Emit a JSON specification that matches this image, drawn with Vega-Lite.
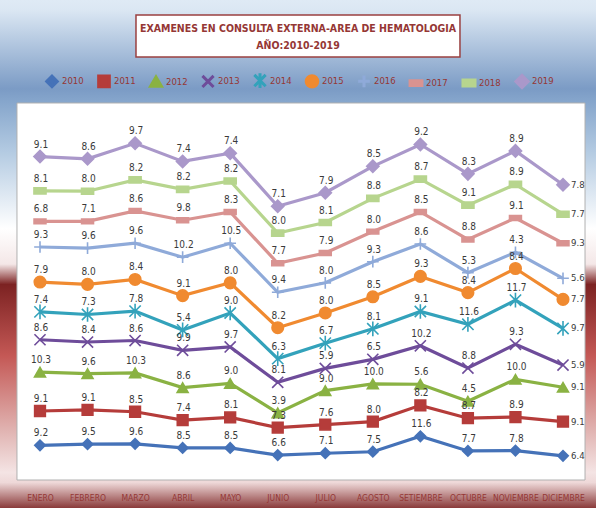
{
  "$schema": "https://vega.github.io/schema/vega-lite/v6.json",
  "width": 596,
  "height": 508,
  "autosize": {"type": "none"},
  "padding": 0,
  "title": {
    "text": ["EXAMENES EN CONSULTA EXTERNA-AREA DE HEMATOLOGIA", "AÑO:2010-2019"],
    "color": "#953735",
    "fontSize": 10.5,
    "fontWeight": "bold",
    "font": "DejaVu Sans Condensed, Open Sans, sans-serif",
    "lineHeight": 17,
    "anchor": "middle",
    "baseline": "bottom",
    "offset": 0,
    "dy": 61
  },
  "data": {"values": [
    {"year":"2010","n":1,"month":"ENERO","value":9.2},{"year":"2010","n":2,"month":"FEBRERO","value":9.5},{"year":"2010","n":3,"month":"MARZO","value":9.6},{"year":"2010","n":4,"month":"ABRIL","value":8.5},{"year":"2010","n":5,"month":"MAYO","value":8.5},{"year":"2010","n":6,"month":"JUNIO","value":6.6},{"year":"2010","n":7,"month":"JULIO","value":7.1},{"year":"2010","n":8,"month":"AGOSTO","value":7.5},{"year":"2010","n":9,"month":"SETIEMBRE","value":11.6},{"year":"2010","n":10,"month":"OCTUBRE","value":7.7},{"year":"2010","n":11,"month":"NOVIEMBRE","value":7.8},{"year":"2010","n":12,"month":"DICIEMBRE","value":6.4},
    {"year":"2011","n":1,"month":"ENERO","value":9.1},{"year":"2011","n":2,"month":"FEBRERO","value":9.1},{"year":"2011","n":3,"month":"MARZO","value":8.5},{"year":"2011","n":4,"month":"ABRIL","value":7.4},{"year":"2011","n":5,"month":"MAYO","value":8.1},{"year":"2011","n":6,"month":"JUNIO","value":7.3},{"year":"2011","n":7,"month":"JULIO","value":7.6},{"year":"2011","n":8,"month":"AGOSTO","value":8.0},{"year":"2011","n":9,"month":"SETIEMBRE","value":8.2},{"year":"2011","n":10,"month":"OCTUBRE","value":8.7},{"year":"2011","n":11,"month":"NOVIEMBRE","value":8.9},{"year":"2011","n":12,"month":"DICIEMBRE","value":9.1},
    {"year":"2012","n":1,"month":"ENERO","value":10.3},{"year":"2012","n":2,"month":"FEBRERO","value":9.6},{"year":"2012","n":3,"month":"MARZO","value":10.3},{"year":"2012","n":4,"month":"ABRIL","value":8.6},{"year":"2012","n":5,"month":"MAYO","value":9.0},{"year":"2012","n":6,"month":"JUNIO","value":3.9},{"year":"2012","n":7,"month":"JULIO","value":9.0},{"year":"2012","n":8,"month":"AGOSTO","value":10.0},{"year":"2012","n":9,"month":"SETIEMBRE","value":5.6},{"year":"2012","n":10,"month":"OCTUBRE","value":4.5},{"year":"2012","n":11,"month":"NOVIEMBRE","value":10.0},{"year":"2012","n":12,"month":"DICIEMBRE","value":9.1},
    {"year":"2013","n":1,"month":"ENERO","value":8.6},{"year":"2013","n":2,"month":"FEBRERO","value":8.4},{"year":"2013","n":3,"month":"MARZO","value":8.6},{"year":"2013","n":4,"month":"ABRIL","value":9.9},{"year":"2013","n":5,"month":"MAYO","value":9.7},{"year":"2013","n":6,"month":"JUNIO","value":8.1},{"year":"2013","n":7,"month":"JULIO","value":5.9},{"year":"2013","n":8,"month":"AGOSTO","value":6.5},{"year":"2013","n":9,"month":"SETIEMBRE","value":10.2},{"year":"2013","n":10,"month":"OCTUBRE","value":8.8},{"year":"2013","n":11,"month":"NOVIEMBRE","value":9.3},{"year":"2013","n":12,"month":"DICIEMBRE","value":5.9},
    {"year":"2014","n":1,"month":"ENERO","value":7.4},{"year":"2014","n":2,"month":"FEBRERO","value":7.3},{"year":"2014","n":3,"month":"MARZO","value":7.8},{"year":"2014","n":4,"month":"ABRIL","value":5.4},{"year":"2014","n":5,"month":"MAYO","value":9.0},{"year":"2014","n":6,"month":"JUNIO","value":6.3},{"year":"2014","n":7,"month":"JULIO","value":6.7},{"year":"2014","n":8,"month":"AGOSTO","value":8.1},{"year":"2014","n":9,"month":"SETIEMBRE","value":9.1},{"year":"2014","n":10,"month":"OCTUBRE","value":11.6},{"year":"2014","n":11,"month":"NOVIEMBRE","value":11.7},{"year":"2014","n":12,"month":"DICIEMBRE","value":9.7},
    {"year":"2015","n":1,"month":"ENERO","value":7.9},{"year":"2015","n":2,"month":"FEBRERO","value":8.0},{"year":"2015","n":3,"month":"MARZO","value":8.4},{"year":"2015","n":4,"month":"ABRIL","value":9.1},{"year":"2015","n":5,"month":"MAYO","value":8.0},{"year":"2015","n":6,"month":"JUNIO","value":8.2},{"year":"2015","n":7,"month":"JULIO","value":8.0},{"year":"2015","n":8,"month":"AGOSTO","value":8.5},{"year":"2015","n":9,"month":"SETIEMBRE","value":9.3},{"year":"2015","n":10,"month":"OCTUBRE","value":8.4},{"year":"2015","n":11,"month":"NOVIEMBRE","value":8.4},{"year":"2015","n":12,"month":"DICIEMBRE","value":7.7},
    {"year":"2016","n":1,"month":"ENERO","value":9.3},{"year":"2016","n":2,"month":"FEBRERO","value":9.6},{"year":"2016","n":3,"month":"MARZO","value":9.6},{"year":"2016","n":4,"month":"ABRIL","value":10.2},{"year":"2016","n":5,"month":"MAYO","value":10.5},{"year":"2016","n":6,"month":"JUNIO","value":9.4},{"year":"2016","n":7,"month":"JULIO","value":8.0},{"year":"2016","n":8,"month":"AGOSTO","value":9.3},{"year":"2016","n":9,"month":"SETIEMBRE","value":8.6},{"year":"2016","n":10,"month":"OCTUBRE","value":5.3},{"year":"2016","n":11,"month":"NOVIEMBRE","value":4.3},{"year":"2016","n":12,"month":"DICIEMBRE","value":5.6},
    {"year":"2017","n":1,"month":"ENERO","value":6.8},{"year":"2017","n":2,"month":"FEBRERO","value":7.1},{"year":"2017","n":3,"month":"MARZO","value":8.6},{"year":"2017","n":4,"month":"ABRIL","value":9.8},{"year":"2017","n":5,"month":"MAYO","value":8.3},{"year":"2017","n":6,"month":"JUNIO","value":7.7},{"year":"2017","n":7,"month":"JULIO","value":7.9},{"year":"2017","n":8,"month":"AGOSTO","value":8.0},{"year":"2017","n":9,"month":"SETIEMBRE","value":8.5},{"year":"2017","n":10,"month":"OCTUBRE","value":8.8},{"year":"2017","n":11,"month":"NOVIEMBRE","value":9.1},{"year":"2017","n":12,"month":"DICIEMBRE","value":9.3},
    {"year":"2018","n":1,"month":"ENERO","value":8.1},{"year":"2018","n":2,"month":"FEBRERO","value":8.0},{"year":"2018","n":3,"month":"MARZO","value":8.2},{"year":"2018","n":4,"month":"ABRIL","value":8.2},{"year":"2018","n":5,"month":"MAYO","value":8.2},{"year":"2018","n":6,"month":"JUNIO","value":8.0},{"year":"2018","n":7,"month":"JULIO","value":8.1},{"year":"2018","n":8,"month":"AGOSTO","value":8.8},{"year":"2018","n":9,"month":"SETIEMBRE","value":8.7},{"year":"2018","n":10,"month":"OCTUBRE","value":9.1},{"year":"2018","n":11,"month":"NOVIEMBRE","value":8.9},{"year":"2018","n":12,"month":"DICIEMBRE","value":7.7},
    {"year":"2019","n":1,"month":"ENERO","value":9.1},{"year":"2019","n":2,"month":"FEBRERO","value":8.6},{"year":"2019","n":3,"month":"MARZO","value":9.7},{"year":"2019","n":4,"month":"ABRIL","value":7.4},{"year":"2019","n":5,"month":"MAYO","value":7.4},{"year":"2019","n":6,"month":"JUNIO","value":7.1},{"year":"2019","n":7,"month":"JULIO","value":7.9},{"year":"2019","n":8,"month":"AGOSTO","value":8.5},{"year":"2019","n":9,"month":"SETIEMBRE","value":9.2},{"year":"2019","n":10,"month":"OCTUBRE","value":8.3},{"year":"2019","n":11,"month":"NOVIEMBRE","value":8.9},{"year":"2019","n":12,"month":"DICIEMBRE","value":7.8}
  ]},
  "layer": [
    {
      "data": {"values": [{"part": "plot"}]},
      "mark": {"type": "rect", "fill": "#ffffff", "stroke": "#b0b0b0", "strokeWidth": 1},
      "encoding": {
        "x": {"datum": 0.516, "type": "quantitative", "scale": {"domain": [0.1588, 12.694], "nice": false, "zero": false}},
        "x2": {"datum": 12.463},
        "y": {"datum": 0, "type": "quantitative", "scale": {"domain": [-7.427, 127.32], "nice": false, "zero": false}, "axis": null},
        "y2": {"datum": 100}
      }
    },
    {
      "data": {"values": [{"part": "titlebox"}]},
      "mark": {"type": "rect", "fill": "#ffffff", "stroke": "#9a4040", "strokeWidth": 1.5},
      "encoding": {
        "x": {"datum": 3.019, "type": "quantitative"},
        "x2": {"datum": 9.833},
        "y": {"datum": 112.2, "type": "quantitative"},
        "y2": {"datum": 123.34}
      }
    },
    {
      "transform": [
        {"stack": "value", "groupby": ["n"], "sort": [{"field": "year", "order": "ascending"}], "as": ["v0", "v1"]}
      ],
      "encoding": {
        "x": {
          "field": "n", "type": "quantitative",
          "axis": {"title": null, "values": [1,2,3,4,5,6,7,8,9,10,11,12], "labelExpr": "['ENERO','FEBRERO','MARZO','ABRIL','MAYO','JUNIO','JULIO','AGOSTO','SETIEMBRE','OCTUBRE','NOVIEMBRE','DICIEMBRE'][datum.value - 1]", "grid": false, "labelAngle": 0, "ticks": false, "domain": false, "offset": -28, "labelColor": "#953735", "labelFontSize": 8.5, "labelFont": "DejaVu Sans Condensed, Open Sans, sans-serif", "labelPadding": 13, "labelOverlap": false, "labelFlush": false, "labelBound": false}
        },
        "y": {"field": "v1", "type": "quantitative"}
      },
      "layer": [
        {
          "mark": {"type": "line", "strokeWidth": 3.2},
          "encoding": {
            "color": {
              "field": "year", "type": "nominal",
              "scale": {"domain": ["2010","2011","2012","2013","2014","2015","2016","2017","2018","2019"],
                        "range": ["#4572b8","#b53c3a","#8ab243","#6e4c9a","#33a2bb","#f08a30","#8faad9","#d99391","#b7d58e","#aa98ca"]},
              "legend": {
                "title": null, "orient": "none", "legendX": 44, "legendY": 73, "direction": "horizontal", "columns": 10,
                "symbolType": "stroke", "symbolSize": 400, "symbolStrokeWidth": 3,
                "labelColor": "#953735", "labelFontSize": 9.5, "labelFont": "DejaVu Sans Condensed, Open Sans, sans-serif",
                "columnPadding": 8, "labelOffset": 2
              }
            }
          }
        },
        {
          "mark": {"type": "point", "filled": true, "opacity": 1, "strokeWidth": 1.6},
          "encoding": {
            "fill": {"field": "year", "type": "nominal", "legend": null,
              "scale": {"domain": ["2010","2011","2012","2013","2014","2015","2016","2017","2018","2019"],
                        "range": ["#4572b8","#b53c3a","#8ab243","#6e4c9a","#33a2bb","#f08a30","#8faad9","#d99391","#b7d58e","#aa98ca"]}},
            "stroke": {"field": "year", "type": "nominal", "legend": null,
              "scale": {"domain": ["2010","2011","2012","2013","2014","2015","2016","2017","2018","2019"],
                        "range": ["#4572b8","#b53c3a","#8ab243","#6e4c9a","#33a2bb","#f08a30","#8faad9","#d99391","#b7d58e","#aa98ca"]}},
            "shape": {"field": "year", "type": "nominal", "legend": null,
              "scale": {"domain": ["2010","2011","2012","2013","2014","2015","2016","2017","2018","2019"],
                        "range": ["diamond","square","triangle-up","M-1,-1L1,1M-1,1L1,-1","M-1,-1L1,1M-1,1L1,-1M0,-1.3L0,1.3","circle","M-1,0L1,0M0,-1L0,1","M-1,-0.4H1V0.4H-1Z","M-1,-0.5H1V0.5H-1Z","diamond"]}},
            "size": {"field": "year", "type": "nominal", "legend": null,
              "scale": {"domain": ["2010","2011","2012","2013","2014","2015","2016","2017","2018","2019"],
                        "range": [110, 150, 130, 90, 100, 170, 110, 40, 60, 120]}}
          }
        },
        {
          "transform": [{"filter": "datum.n < 12"}],
          "mark": {"type": "text", "baseline": "bottom", "dy": -7, "dx": 1, "fontSize": 10, "font": "DejaVu Sans Condensed, Open Sans, sans-serif", "color": "#3a3a3a"},
          "encoding": {
            "text": {"field": "value", "type": "quantitative", "format": ".1f"}
          }
        },
        {
          "transform": [{"filter": "datum.n === 12"}],
          "mark": {"type": "text", "baseline": "middle", "align": "left", "dx": 8, "fontSize": 9.5, "font": "DejaVu Sans Condensed, Open Sans, sans-serif", "color": "#3a3a3a"},
          "encoding": {
            "text": {"field": "value", "type": "quantitative", "format": ".1f"}
          }
        }
      ]
    }
  ],
  "config": {
    "view": {
      "stroke": null,
      "fill": {"gradient": "linear", "x1": 0, "y1": 0, "x2": 0, "y2": 1, "stops": [
        {"offset": 0, "color": "#dfeaf5"},
        {"offset": 0.02, "color": "#dbe7f3"},
        {"offset": 0.175, "color": "#7b9bc5"},
        {"offset": 0.2, "color": "#86a6cc"},
        {"offset": 0.3, "color": "#b4cbe2"},
        {"offset": 0.45, "color": "#ffffff"},
        {"offset": 0.52, "color": "#f4e7e7"},
        {"offset": 0.56, "color": "#7c2222"},
        {"offset": 0.7, "color": "#c45855"},
        {"offset": 0.85, "color": "#e1b5b3"},
        {"offset": 0.93, "color": "#f4e4e4"},
        {"offset": 0.95, "color": "#eed8d8"},
        {"offset": 1, "color": "#8a3a3a"}
      ]}
    }
  }
}
